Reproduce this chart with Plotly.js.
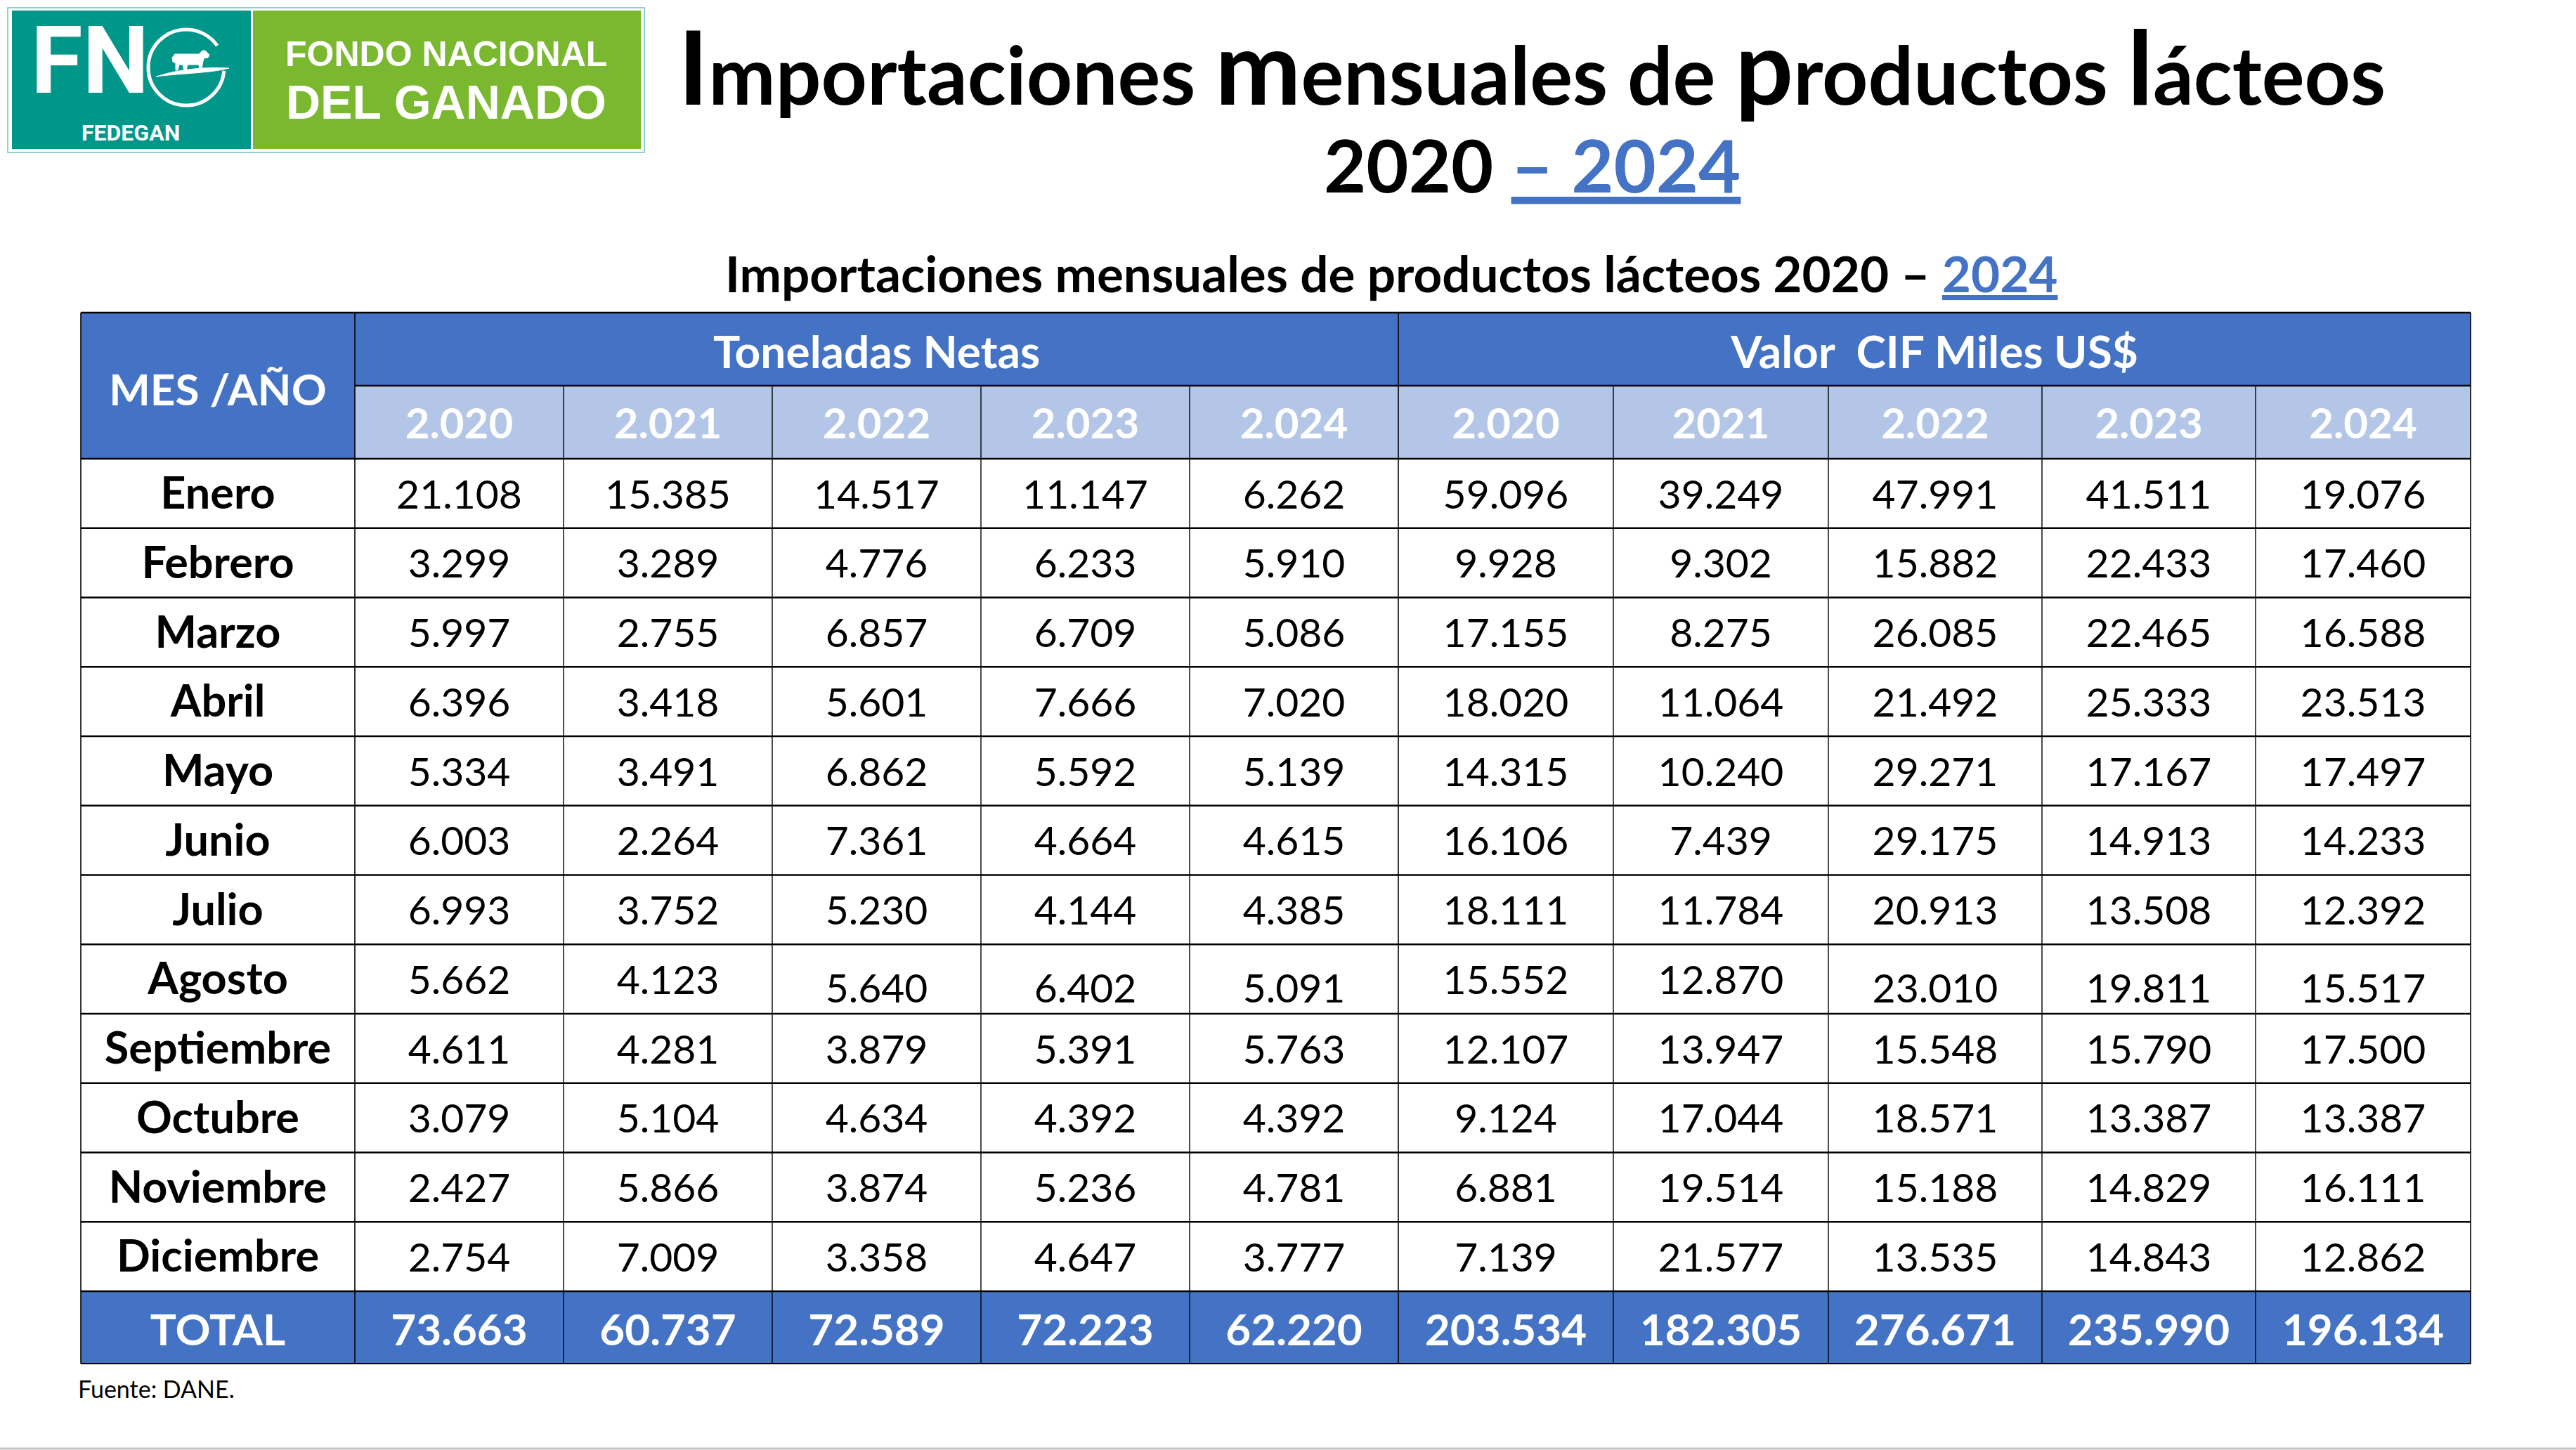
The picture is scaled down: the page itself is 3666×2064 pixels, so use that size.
<!DOCTYPE html>
<html>
<head>
<meta charset="utf-8">
<script src="https://cdn.plot.ly/plotly-3.0.1.min.js"></script>
<style>html,body{margin:0;padding:0;background:#fff;}#chart{width:3666px;height:2064px;}</style>
</head>
<body>
<div id="chart"></div>
<script>
// ---------------- DATA ----------------
const months = ['Enero','Febrero','Marzo','Abril','Mayo','Junio','Julio','Agosto','Septiembre','Octubre','Noviembre','Diciembre'];
const groupLabels = ['Toneladas Netas', 'Valor\u00a0\u00a0CIF Miles US$'];
const cornerLabel = 'MES /AÑO';
const totalLabel = 'TOTAL';
const tonYearLabels = ['2.020','2.021','2.022','2.023','2.024'];
const cifYearLabels = ['2.020','2021','2.022','2.023','2.024'];

const ton2020 = [21108,3299,5997,6396,5334,6003,6993,5662,4611,3079,2427,2754];
const ton2021 = [15385,3289,2755,3418,3491,2264,3752,4123,4281,5104,5866,7009];
const ton2022 = [14517,4776,6857,5601,6862,7361,5230,5640,3879,4634,3874,3358];
const ton2023 = [11147,6233,6709,7666,5592,4664,4144,6402,5391,4392,5236,4647];
const ton2024 = [6262,5910,5086,7020,5139,4615,4385,5091,5763,4392,4781,3777];

const cif2020 = [59096,9928,17155,18020,14315,16106,18111,15552,12107,9124,6881,7139];
const cif2021 = [39249,9302,8275,11064,10240,7439,11784,12870,13947,17044,19514,21577];
const cif2022 = [47991,15882,26085,21492,29271,29175,20913,23010,15548,18571,15188,13535];
const cif2023 = [41511,22433,22465,25333,17167,14913,13508,19811,15790,13387,14829,14843];
const cif2024 = [19076,17460,16588,23513,17497,14233,12392,15517,17500,13387,16111,12862];

const tonTotals = [73663,60737,72589,72223,62220];
const cifTotals = [203534,182305,276671,235990,196134];

const sourceNote = 'Fuente: DANE.';

// ---------------- LAYOUT CONSTANTS ----------------
const BLUE = '#4472C4', LIGHT = '#B4C6E7';
const FONT = 'Lato, "Open Sans", sans-serif';
const colEdges = [115, 505, 802, 1099, 1396, 1693, 1990, 2296, 2602, 2906, 3210, 3516];
const headTop = 445, head1 = 549, head2 = 653, rowH = 98.75;
const bodyBottom = head2 + 12 * rowH;   // 1838
const tableBottom = 1941;
// per-cell vertical nudge (Agosto row: some cells sit lower in the source)
const nudge = {7: [0,0,12,12,12,0,0,12,12,12]};

const fmt = n => String(n).replace(/\B(?=(\d{3})+(?!\d))/g, '.');
const colC = i => (colEdges[i] + colEdges[i+1]) / 2;
const rowC = r => head2 + rowH * (r + 0.5);

const valueCols = [ton2020, ton2021, ton2022, ton2023, ton2024, cif2020, cif2021, cif2022, cif2023, cif2024];
const yearLabels = tonYearLabels.concat(cifYearLabels);
const totals = tonTotals.concat(cifTotals);

// body values
const bx = [], by = [], bt = [];
valueCols.forEach((col, c) => {
  col.forEach((v, r) => {
    bx.push(colC(c + 1));
    by.push(rowC(r) + 7 + (nudge[r] ? nudge[r][c] : 0));
    bt.push(fmt(v));
  });
});
// month labels
const mx = months.map(() => colC(0));
const my = months.map((m, r) => rowC(r) + 6);
// year headers
const yx = yearLabels.map((l, c) => colC(c + 1));
const yy = yearLabels.map(() => (head1 + head2) / 2 + 8);
// totals row
const tx = [colC(0)].concat(totals.map((t, c) => colC(c + 1)));
const ty = tx.map(() => (bodyBottom + tableBottom) / 2 + 10);
const tt = [totalLabel].concat(totals.map(fmt));
// group headers
const gx = [(colEdges[1] + colEdges[6]) / 2, (colEdges[6] + colEdges[11]) / 2];
const gy = [(headTop + head1) / 2 + 11, (headTop + head1) / 2 + 11];

const textTrace = (x, y, text, size, color, weight) => ({
  type: 'scatter', mode: 'text', x, y, text,
  textposition: 'middle center', hoverinfo: 'skip', showlegend: false, cliponaxis: false,
  textfont: {family: FONT, size, color, weight}
});

const traces = [
  textTrace(bx, by, bt, 57, '#000', 'normal'),
  textTrace(mx, my, months, 63, '#000', 'bold'),
  textTrace(yx, yy, yearLabels, 60, '#fff', 'bold'),
  textTrace(tx, ty, tt, 62, '#fff', 'bold'),
  textTrace(gx, gy, groupLabels, 64, '#fff', 'bold'),
  textTrace([colC(0)], [(headTop + head2) / 2 + 12], [cornerLabel], 62, '#fff', 'bold')
];

// ---------------- SHAPES ----------------
const shapes = [];
const rect = (x0, y0, x1, y1, fill) => shapes.push({type:'rect', xref:'x', yref:'y', x0, y0, x1, y1, fillcolor: fill, line:{width:0}, layer:'below'});
const hline = (x0, x1, y, w) => shapes.push({type:'line', xref:'x', yref:'y', x0, x1, y0:y, y1:y, line:{color:'#000', width:w}, layer:'below'});
const vline = (x, y0, y1, w) => shapes.push({type:'line', xref:'x', yref:'y', x0:x, x1:x, y0, y1, line:{color:'#000', width:w}, layer:'below'});

const L = colEdges[0], R = colEdges[colEdges.length - 1];
rect(L, headTop, R, head1, BLUE);
rect(L, head1, colEdges[1], head2, BLUE);
rect(colEdges[1], head1, R, head2, LIGHT);
rect(L, bodyBottom, R, tableBottom, BLUE);

// vertical lines
colEdges.forEach((x, i) => {
  if (i === 0 || i === 1 || i === 6 || i === colEdges.length - 1) vline(x, headTop, tableBottom, 1.6);
  else vline(x, head1, tableBottom, 1.4);
});
// horizontal lines
hline(L, R, headTop, 2.6);
hline(colEdges[1], R, head1, 2.6);
hline(L, R, head2, 2.6);
for (let r = 1; r <= 12; r++) hline(L, R, head2 + r * rowH, 2.6);
hline(L, R, tableBottom, 2.2);

// bottom grey rule
shapes.push({type:'line', xref:'x', yref:'y', x0:0, x1:3666, y0:2062, y1:2062, line:{color:'#c4c4c4', width:3}, layer:'below'});

// logo
shapes.push({type:'rect', xref:'x', yref:'y', x0:11, y0:11, x1:917, y1:217, fillcolor:'#ffffff', line:{color:'#8fd3cc', width:2}, layer:'below'});
shapes.push({type:'rect', xref:'x', yref:'y', x0:17, y0:15, x1:357, y1:212, fillcolor:'#00978A', line:{width:0}, layer:'below'});
shapes.push({type:'rect', xref:'x', yref:'y', x0:360, y0:15, x1:912, y1:212, fillcolor:'#7AB82F', line:{width:0}, layer:'below'});
// "G" ring (open arc built from cubic segments)
shapes.push({type:'path', xref:'x', yref:'y',
  path:'M 309.2 65 C 299.1 50.6 282.6 42 265 42 C 235.2 42 211 66.2 211 96 C 211 125.8 235.2 150 265 150 C 293 150 316.4 128.6 318.8 100.7',
  line:{color:'#fff', width:5}, layer:'below'});
shapes.push({type:'path', xref:'x', yref:'y', path:'M 222 109 C 255 98 295 95 326 97 C 300 104 262 104 222 109 Z', fillcolor:'#fff', line:{color:'#fff', width:1}, layer:'below'});
shapes.push({type:'path', xref:'x', yref:'y', path:'M 245 82 L 249 77 L 283 77 L 288 72 L 292 72 L 298 78 L 296 82 L 290 83 L 288 92 L 287 100 L 284 100 L 283 92 L 267 92 L 265 100 L 262 100 L 260 92 L 255 92 L 253 100 L 250 100 L 250 90 L 246 88 Z', fillcolor:'#fff', line:{color:'#fff', width:1}, layer:'below'});

// ---------------- ANNOTATIONS ----------------
const big = s => '<span style="font-size:146px">' + s + '</span>';
const annotations = [
  {xref:'x', yref:'y', x:2180, y:92, xanchor:'center', yanchor:'middle', showarrow:false,
   text: '<b>' + big('I') + 'mportaciones ' + big('m') + 'ensuales de ' + big('p') + 'roductos ' + big('l') + 'ácteos</b>',
   font:{family: FONT, size: 114, color:'#000'}},
  {xref:'x', yref:'y', x:2180, y:233, xanchor:'center', yanchor:'middle', showarrow:false,
   text: '<b>2020 <span style="color:' + BLUE + '"><u>– 2024</u></span></b>',
   font:{family: FONT, size: 104, color:'#000'}},
  {xref:'x', yref:'y', x:1980, y:388, xanchor:'center', yanchor:'middle', showarrow:false,
   text: '<b>Importaciones mensuales de productos lácteos 2020 – <span style="color:' + BLUE + '"><u>2024</u></span></b>',
   font:{family: FONT, size: 71, color:'#000'}},
  {xref:'x', yref:'y', x:109, y:1976, xanchor:'left', yanchor:'middle', showarrow:false,
   text: sourceNote, font:{family: FONT, size: 34, color:'#000'}},
  // logo texts
  {xref:'x', yref:'y', x:128, y:86, xanchor:'center', yanchor:'middle', showarrow:false,
   text:'<b>FN</b>', font:{family:'Roboto, sans-serif', size:134, color:'#fff'}},
  {xref:'x', yref:'y', x:186, y:189, xanchor:'center', yanchor:'middle', showarrow:false,
   text:'<b>FEDEGAN</b>', font:{family:'Roboto, sans-serif', size:32, color:'#fff'}},
  {xref:'x', yref:'y', x:635, y:77, xanchor:'center', yanchor:'middle', showarrow:false,
   text:'<b>FONDO NACIONAL</b>', font:{family:'"Liberation Sans", Arial, sans-serif', size:50, color:'#fff'}},
  {xref:'x', yref:'y', x:635, y:145, xanchor:'center', yanchor:'middle', showarrow:false,
   text:'<b>DEL GANADO</b>', font:{family:'"Liberation Sans", Arial, sans-serif', size:68, color:'#fff'}}
];

const layout = {
  width: 3666, height: 2064,
  margin: {l:0, r:0, t:0, b:0, pad:0},
  paper_bgcolor: '#fff', plot_bgcolor: '#fff',
  xaxis: {range:[0, 3666], visible:false, fixedrange:true},
  yaxis: {range:[2064, 0], visible:false, fixedrange:true},
  shapes, annotations, showlegend:false
};

Plotly.newPlot('chart', traces, layout, {staticPlot:true, displayModeBar:false});
</script>
</body>
</html>
